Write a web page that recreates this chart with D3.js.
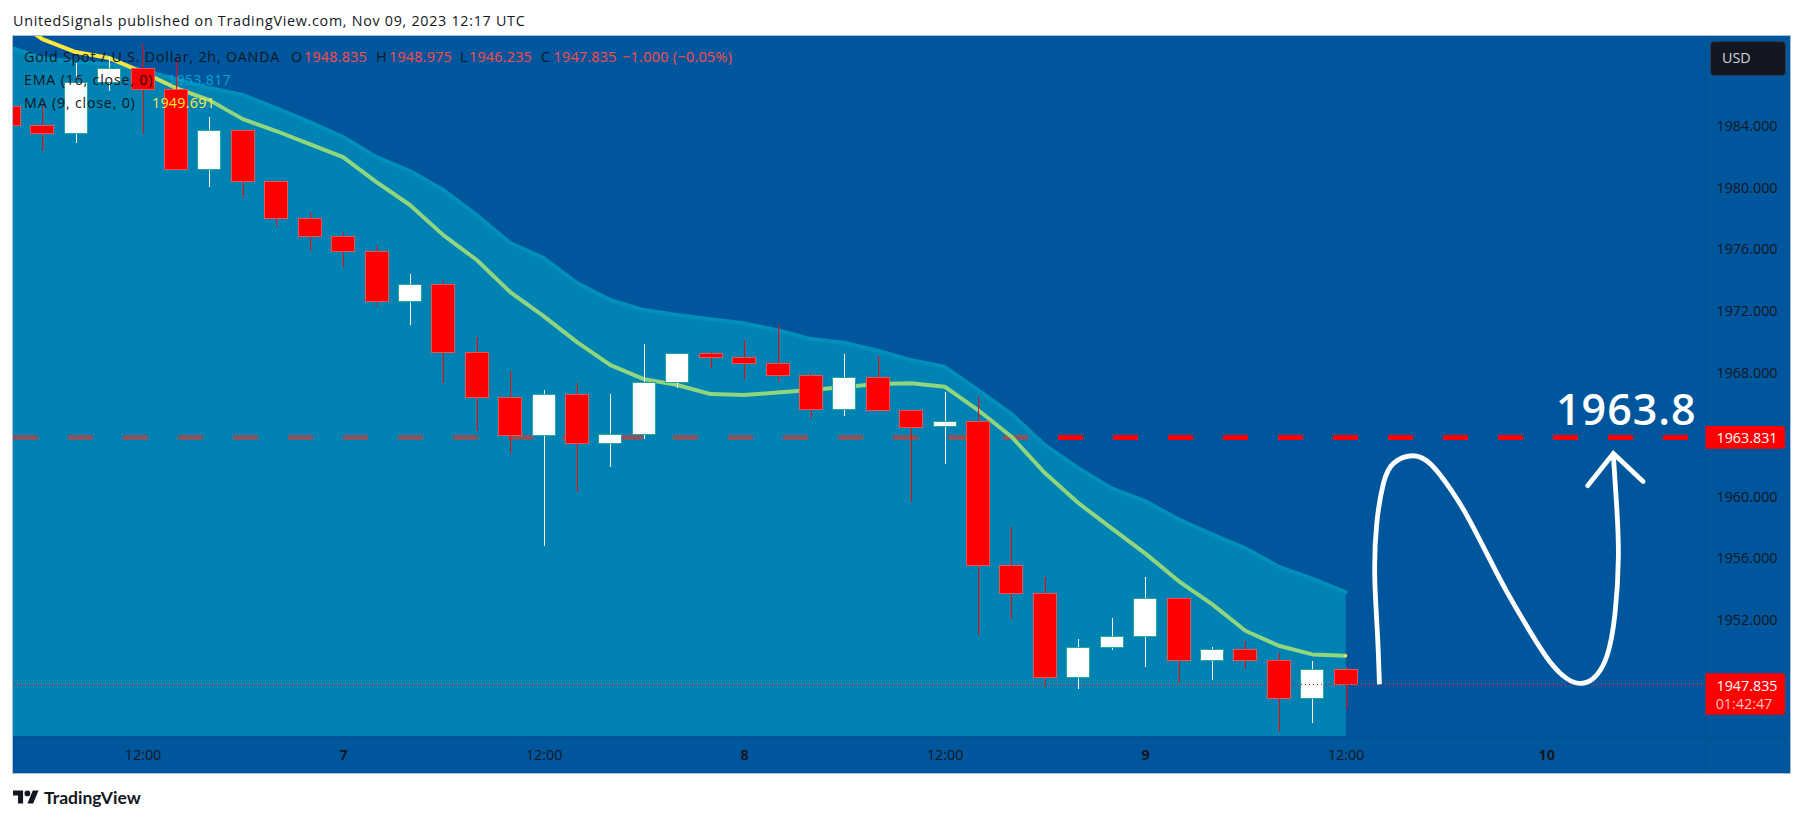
<!DOCTYPE html>
<html>
<head>
<meta charset="utf-8">
<script src="https://d3js.org/d3.v7.min.js"></script>
<style>
html,body{margin:0;padding:0;background:#fff;overflow:hidden}
svg{display:block}
text{font-family:"Open Sans",sans-serif;fill:#131722}
</style>
</head>
<body>
<svg id="c" width="1804" height="821"></svg>
<script>
// ---------- data ----------
const opens  = [1985.25,1984.02,1983.51,1986.85,1987.75,1986.35,1981.18,1983.74,1980.40,1978.00,1976.84,1975.87,1972.68,1973.77,1969.37,1966.42,1964.00,1966.61,1963.44,1964.06,1967.43,1969.31,1969.01,1968.67,1967.84,1965.64,1967.71,1965.58,1964.54,1964.87,1955.56,1953.73,1948.30,1950.28,1950.99,1953.45,1949.40,1950.15,1949.40,1946.94,1948.835];
const highs  = [1986.50,1985.27,1988.04,1988.46,1989.22,1988.25,1984.54,1983.74,1980.40,1978.41,1977.10,1976.21,1974.40,1974.01,1970.30,1968.12,1966.89,1967.33,1966.63,1969.87,1969.31,1969.37,1970.13,1971.10,1967.97,1969.22,1969.11,1965.58,1966.76,1966.42,1958.00,1954.77,1950.78,1952.11,1954.77,1953.45,1950.24,1950.65,1949.85,1949.35,1948.975];
const lows   = [1983.50,1982.38,1982.90,1986.26,1983.48,1981.18,1980.05,1979.34,1977.53,1975.91,1974.87,1972.35,1971.10,1967.36,1964.26,1962.77,1956.81,1960.31,1961.93,1963.72,1967.04,1968.33,1967.60,1967.43,1965.10,1965.21,1965.58,1959.66,1962.12,1951.03,1952.09,1947.65,1947.56,1950.08,1948.98,1947.91,1948.12,1948.85,1944.78,1945.36,1946.235];
const closes = [1984.02,1983.51,1986.85,1987.75,1986.35,1981.18,1983.74,1980.40,1978.00,1976.84,1975.87,1972.68,1973.77,1969.37,1966.42,1964.00,1966.61,1963.44,1964.06,1967.43,1969.31,1969.01,1968.67,1967.84,1965.64,1967.71,1965.58,1964.52,1964.87,1955.56,1953.73,1948.30,1950.28,1950.99,1953.45,1949.40,1950.15,1949.40,1946.94,1948.85,1947.835];
const ema16  = [1989.09,1988.38,1988.12,1987.99,1987.60,1987.02,1986.44,1985.99,1985.14,1984.24,1983.27,1981.97,1981.07,1979.84,1978.22,1976.41,1975.44,1973.82,1972.72,1972.07,1971.75,1971.47,1971.21,1970.77,1970.19,1969.95,1969.44,1968.83,1968.40,1966.89,1965.34,1963.33,1961.84,1960.53,1959.71,1958.52,1957.55,1956.65,1955.45,1954.68,1953.817];
const ma9    = [1991.10,1989.61,1988.77,1988.38,1987.47,1986.44,1985.66,1984.43,1983.66,1982.81,1981.97,1980.35,1978.87,1976.92,1975.31,1973.23,1971.68,1970.00,1968.51,1967.60,1967.22,1966.63,1966.57,1966.74,1966.89,1967.09,1967.28,1967.34,1967.11,1965.60,1963.87,1961.52,1959.58,1957.94,1956.32,1954.53,1953.04,1951.31,1950.34,1949.78,1949.691];

const targetPrice = 1963.831;
const lastPrice   = 1947.835;
const countdown   = "01:42:47";
const priceTicks  = [1984,1980,1976,1972,1968,1960,1956,1952];
const timeTicks   = ["2023-11-06T12:00Z","2023-11-07T00:00Z","2023-11-07T12:00Z","2023-11-08T00:00Z","2023-11-08T12:00Z","2023-11-09T00:00Z","2023-11-09T12:00Z","2023-11-10T00:00Z"];

// hand-drawn projection, in bars after the first bar and price
const sketchBars   = [41.01,40.95,40.87,40.93,41.13,41.43,42.02,42.57,43.12,43.62,44.22,44.82,45.52,46.11,46.61,47.01,47.41,47.81,48.06,48.16,48.11,48.01];
const sketchPrices = [1947.84,1951.14,1954.81,1958.26,1960.85,1962.15,1962.64,1962.04,1960.53,1958.80,1956.32,1953.84,1951.25,1949.31,1948.23,1947.91,1948.23,1949.63,1952.44,1956.10,1959.34,1962.68];
const arrowBars    = [47.24,48.01,48.90];
const arrowPrices  = [1960.70,1962.79,1960.98];

const headerText = "UnitedSignals published on TradingView.com, Nov 09, 2023 12:17 UTC";
const legendRows = [
  {base:62, parts:[["Gold Spot / U.S. Dollar, 2h, OANDA",24,"#131722",.78],["O",291,"#131722",0],["1948.835",304,"#ff4a4a",.25],["H",376,"#131722",0],["1948.975",389,"#ff4a4a",.25],["L",460,"#131722",0],["1946.235",469,"#ff4a4a",.25],["C",541,"#131722",0],["1947.835",553.6,"#ff4a4a",.25],["\u22121.000 (\u22120.05%)",622,"#ff4a4a",.35]]},
  {base:85, parts:[["EMA (16, close, 0)",24,"#131722",.78],["1953.817",168,"#00a5cc",.25]]},
  {base:108,parts:[["MA (9, close, 0)",24,"#131722",.78],["1949.691",152,"#ffeb3b",.25]]}
];

// ---------- layout ----------
const pane = {left:13,right:1705.5,top:36,bottom:736,axisBottom:773,outer:1790.5};
const C = {bg:"#00569c",area:"rgb(0,180,207)",ema:"#008fba",up:"#ffffff",down:"#ff0000",upB:"#26a69a",downB:"#ef5350",red:"#ff0000"};
const BAR_MS = 2*3600*1000;
const t0 = Date.UTC(2023,10,6,4);
const barTime = i => new Date(t0 + i*BAR_MS);

const x = d3.scaleUtc().domain([barTime(0),barTime(46)]).range([8.9,1546.2]);
const y = d3.scaleLinear().domain([1989.81,1944.50]).range([pane.top,pane.bottom]);
const bars = d3.range(opens.length);

const svg = d3.select("#c");
svg.append("rect").attr("x",pane.left).attr("y",pane.top).attr("width",pane.outer-pane.left).attr("height",pane.axisBottom-pane.top).attr("fill",C.bg);

const defs = svg.append("defs");
defs.append("clipPath").attr("id","paneClip").append("rect").attr("x",pane.left).attr("y",pane.top).attr("width",pane.right-pane.left).attr("height",pane.bottom-pane.top);
const grad = defs.append("linearGradient").attr("id","maGrad").attr("gradientUnits","userSpaceOnUse").attr("x1",110).attr("x2",215).attr("y1",0).attr("y2",0);
grad.append("stop").attr("offset",0).attr("stop-color","#ffe83a");
grad.append("stop").attr("offset",1).attr("stop-color","#90d67e");

const g = svg.append("g").attr("clip-path","url(#paneClip)");

// target price dashes lie under the translucent area
g.append("line").attr("x1",13.4).attr("x2",1688).attr("y1",y(targetPrice)).attr("y2",y(targetPrice))
 .attr("stroke",C.red).attr("stroke-width",5).attr("stroke-dasharray","25 30").attr("shape-rendering","crispEdges");

// area under EMA
const area = d3.area().x(i=>x(barTime(i))).y0(pane.bottom).y1(i=>y(ema16[i]));
g.append("path").datum(bars).attr("d",area).attr("fill",C.area).attr("fill-opacity",0.47);

// EMA
const emaLine = d3.line().x(i=>x(barTime(i))).y(i=>y(ema16[i]));
g.append("path").datum(bars).attr("d",emaLine).attr("fill","none").attr("stroke",C.ema).attr("stroke-width",4).attr("stroke-linecap","round").attr("stroke-linejoin","round");

// MA
const maLine = d3.line().x(i=>x(barTime(i))).y(i=>y(ma9[i]));
g.append("path").datum(bars).attr("d",maLine).attr("fill","none").attr("stroke","url(#maGrad)").attr("stroke-width",4).attr("stroke-linejoin","round");
g.append("circle").attr("cx",x(barTime(40))).attr("cy",y(ma9[40])).attr("r",1.7).attr("fill","#e8e84a");

// last price dotted
svg.append("line").attr("x1",pane.left).attr("x2",pane.right).attr("y1",Math.floor(y(lastPrice))+.5).attr("y2",Math.floor(y(lastPrice))+.5)
 .attr("stroke",C.red).attr("stroke-width",1).attr("stroke-dasharray","1 3").attr("shape-rendering","crispEdges");

// candles
const cg = g.append("g").attr("shape-rendering","crispEdges");
const isUp = i => closes[i]>=opens[i];
cg.selectAll("line.w").data(bars).join("line").attr("class","w")
  .attr("x1",i=>Math.round(x(barTime(i)))+.5).attr("x2",i=>Math.round(x(barTime(i)))+.5)
  .attr("y1",i=>y(highs[i])).attr("y2",i=>y(lows[i]))
  .attr("stroke",i=>isUp(i)?C.up:C.down).attr("stroke-width",1);
const bodyW = 24;
cg.selectAll("rect.b").data(bars).join("rect").attr("class","b")
  .attr("x",i=>Math.round(x(barTime(i))-bodyW/2)+.5)
  .attr("width",bodyW-1)
  .attr("y",i=>Math.round(y(Math.max(opens[i],closes[i])))+.5)
  .attr("height",i=>Math.max(1,Math.round(y(Math.min(opens[i],closes[i])))-Math.round(y(Math.max(opens[i],closes[i])))))
  .attr("fill",i=>isUp(i)?C.up:C.down)
  .attr("stroke",i=>isUp(i)?C.upB:C.downB).attr("stroke-width",1);

// axis separators & frame
svg.append("line").attr("x1",pane.left).attr("x2",pane.outer).attr("y1",736.5).attr("y2",736.5).attr("stroke","#00508f");
svg.append("line").attr("x1",1705.5).attr("x2",1705.5).attr("y1",pane.top).attr("y2",pane.axisBottom).attr("stroke","#00508f");
svg.append("rect").attr("x",12.5).attr("y",35.5).attr("width",pane.outer-12.5).attr("height",pane.axisBottom-35).attr("fill","none").attr("stroke","#a9c0d8").attr("stroke-width",1);

// hand drawing
const sketch = d3.line().x((d,i)=>x(barTime(sketchBars[i]))).y(d=>y(d)).curve(d3.curveNatural);
svg.append("path").attr("d",sketch(sketchPrices)).attr("fill","none").attr("stroke","#fff").attr("stroke-width",4.8);
const arrow = d3.line().x((d,i)=>x(barTime(arrowBars[i]))).y(d=>y(d));
svg.append("path").attr("d",arrow(arrowPrices)).attr("fill","none").attr("stroke","#fff").attr("stroke-width",4.8).attr("stroke-linecap","round").attr("stroke-linejoin","miter");
svg.append("text").attr("x",1556).attr("y",425).text("1963.8").style("fill","#fff").style("font-size","43px").style("font-weight",600).style("letter-spacing","1px").style("font-family","'Open Sans',sans-serif");

// price axis
const yAxis = d3.axisRight(y).tickValues(priceTicks).tickFormat(d3.format(".3f")).tickSize(0).tickPadding(0);
const ya = svg.append("g").attr("transform","translate(1716.5,0)").call(yAxis);
ya.select(".domain").remove();
ya.selectAll("text").style("font-size","14.3px").style("font-family","'Open Sans',sans-serif").style("fill","#131722");

// time axis
const fmtTime = d => d.getUTCHours()===0 ? String(d.getUTCDate()) : d3.utcFormat("%H:%M")(d);
const xAxis = d3.axisBottom(x).tickValues(timeTicks.map(s=>new Date(s))).tickFormat(fmtTime).tickSize(0).tickPadding(0);
const xa = svg.append("g").attr("transform","translate(0,750)").call(xAxis);
xa.select(".domain").remove();
xa.selectAll("text").attr("dy","0.71em")
  .style("font-size","14.3px").style("font-family","'Open Sans',sans-serif").style("fill","#131722")
  .style("font-weight",d=>d.getUTCHours()===0?700:400);

// price tags
function tag(top,h,fill){ svg.append("path").attr("d",`M1705.5 ${top}H1782a3 3 0 0 1 3 3V${top+h-3}a3 3 0 0 1 -3 3H1705.5Z`).attr("fill",fill); }
tag(426,22.7,C.red);
svg.append("text").attr("x",1716.5).attr("y",y(targetPrice)+5.5).text(d3.format(".3f")(targetPrice)).style("fill","#fff").style("font-size","14.3px");
tag(673.3,41.4,C.red);
svg.append("text").attr("x",1716.5).attr("y",690.7).text(d3.format(".3f")(lastPrice)).style("fill","#fff").style("font-size","14.3px");
svg.append("text").attr("x",1715.7).attr("y",709.3).text(countdown).style("fill","#ffc4c4").style("font-size","14.3px");

// USD badge
svg.append("rect").attr("x",1710.5).attr("y",41.5).attr("width",75).attr("height",34).attr("rx",4).attr("fill","#131722").attr("stroke","#2a3a55");
svg.append("text").attr("x",1722).attr("y",63).text("USD").style("fill","#d1d4dc").style("font-size","14.3px");

// legend
legendRows.forEach(r=>r.parts.forEach(([t,px,col,ls])=>{
  svg.append("text").attr("x",px).attr("y",r.base).text(t).style("fill",col).style("font-size","14.3px").style("letter-spacing",ls+"px");
}));

// header & footer
svg.append("text").attr("x",13).attr("y",26).text(headerText).style("font-size","14.3px").style("letter-spacing","0.72px");
const logo = svg.append("g").attr("transform","translate(13,790.5) scale(0.72)").attr("fill","#131722");
logo.append("path").attr("d","M14 18H7V7H0V0h14v18zM28 18h-8l7.5-18h8L28 18z");
logo.append("circle").attr("cx",20).attr("cy",4).attr("r",4);
svg.append("text").attr("x",44).attr("y",804).text("TradingView").style("font-family","Lato,sans-serif").style("font-size","17.5px").style("font-weight",700);
</script>
</body>
</html>
